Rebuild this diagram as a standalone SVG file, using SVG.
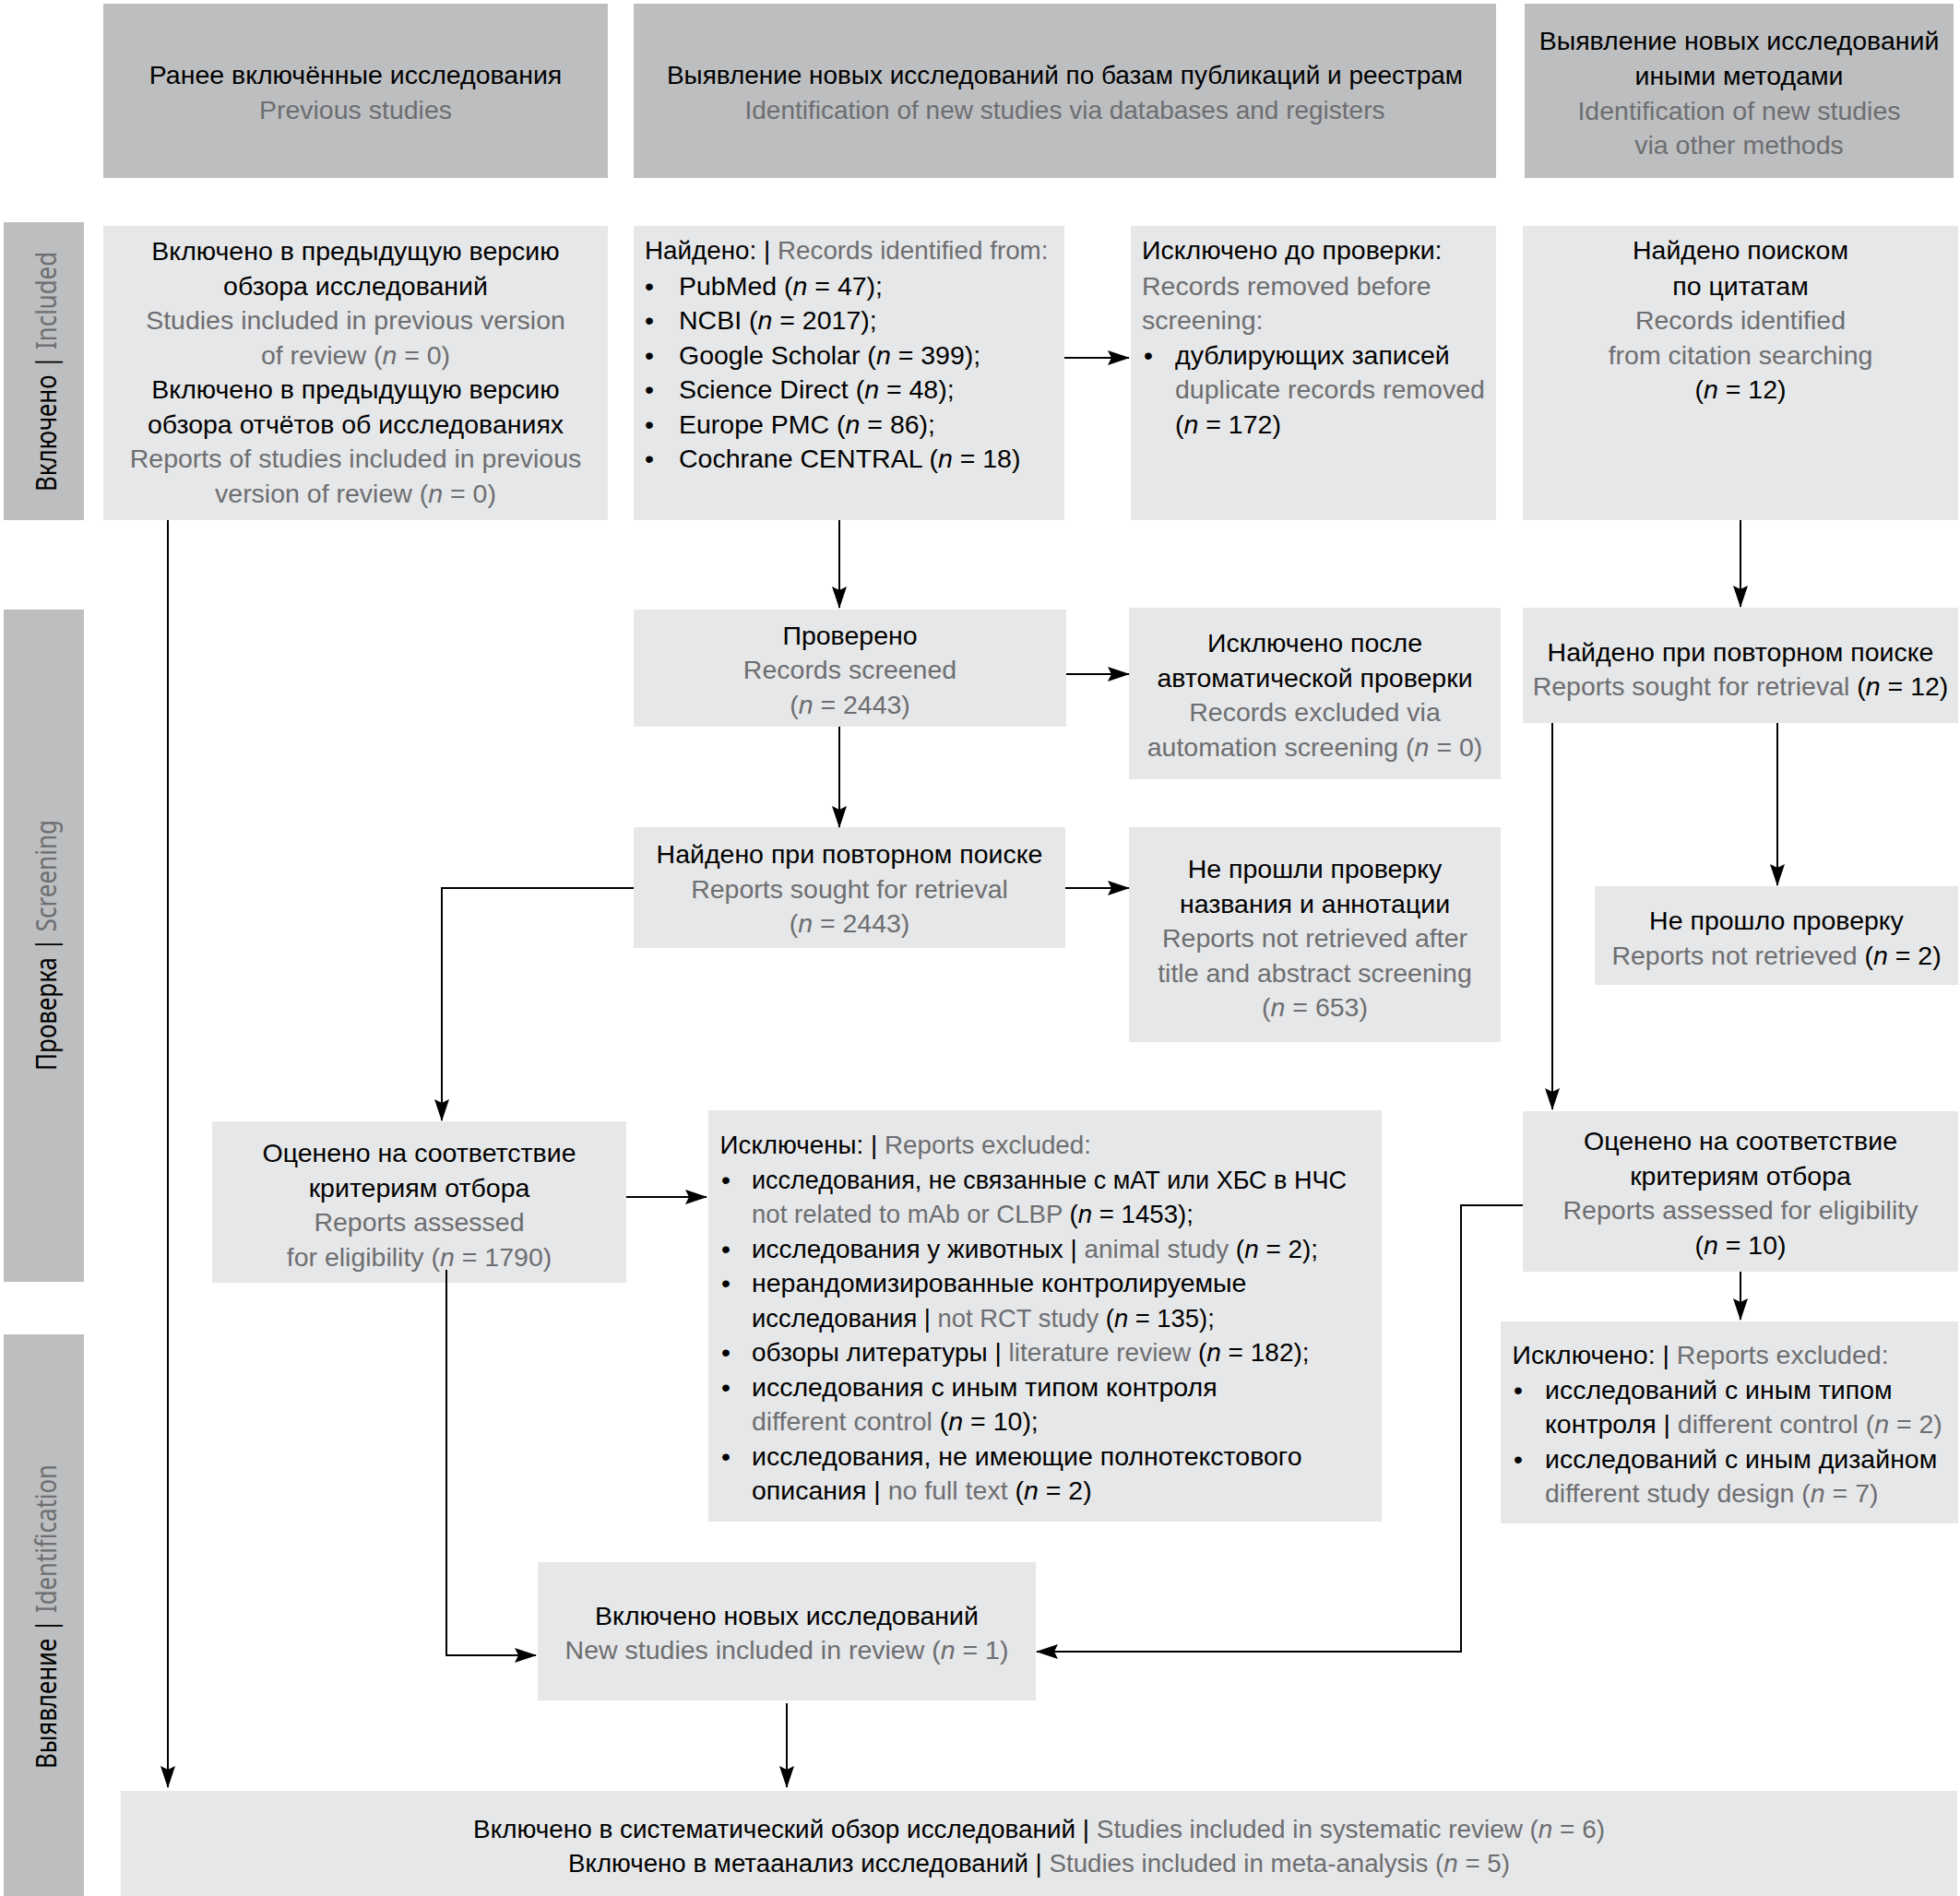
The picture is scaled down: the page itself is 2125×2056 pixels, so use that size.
<svg xmlns="http://www.w3.org/2000/svg" width="2125" height="2056" viewBox="0 0 2125 2056">
<style>
text{font-family:"Liberation Sans",Arial,sans-serif;font-size:28.5px;fill:#000}
.c{text-anchor:middle}
.g{fill:#6d6e71}
.i{font-style:italic}
.hd{fill:#bcbec0}
.bx{fill:#e6e7e8}
.band text{font-family:"Noto Sans","Open Sans",sans-serif;font-size:31px;text-anchor:middle}
.conn path{fill:none;stroke:#000;stroke-width:2;marker-end:url(#ah)}
</style>
<defs>
<marker id="ah" markerWidth="24" markerHeight="16" refX="23" refY="8" orient="auto" markerUnits="userSpaceOnUse"><path d="M0,0 L24,8 L0,16 L4,8 z" fill="#000"/></marker>
</defs>
<rect width="2125" height="2056" fill="#fff"/>

<g id="band-included" class="band">
<rect class="hd" x="4" y="241" width="87" height="323"/>
<text transform="translate(61,403) rotate(-90)" textLength="260" lengthAdjust="spacingAndGlyphs">Включено | <tspan class="g">Included</tspan></text>
</g>
<g id="band-screening" class="band">
<rect class="hd" x="4" y="661" width="87" height="729"/>
<text transform="translate(61,1025) rotate(-90)" textLength="272" lengthAdjust="spacingAndGlyphs">Проверка | <tspan class="g">Screening</tspan></text>
</g>
<g id="band-identification" class="band">
<rect class="hd" x="4" y="1447" width="87" height="609"/>
<text transform="translate(61,1753) rotate(-90)" textLength="330" lengthAdjust="spacingAndGlyphs">Выявление | <tspan class="g">Identification</tspan></text>
</g>

<g id="header-previous">
<rect class="hd" x="112" y="4" width="547" height="189"/>
<text class="c" x="385.5" y="91">Ранее включённые исследования</text>
<text class="c g" x="385.5" y="129">Previous studies</text>
</g>
<g id="header-databases">
<rect class="hd" x="687" y="4" width="935" height="189"/>
<text class="c" x="1154.5" y="91" textLength="863" lengthAdjust="spacingAndGlyphs">Выявление новых исследований по базам публикаций и реестрам</text>
<text class="c g" x="1154.5" y="129" textLength="694" lengthAdjust="spacingAndGlyphs">Identification of new studies via databases and registers</text>
</g>
<g id="header-other">
<rect class="hd" x="1653" y="4" width="465" height="189"/>
<text class="c" x="1885.5" y="54">Выявление новых исследований</text>
<text class="c" x="1885.5" y="92">иными методами</text>
<text class="c g" x="1885.5" y="130">Identification of new studies</text>
<text class="c g" x="1885.5" y="167">via other methods</text>
</g>

<g id="prev-included">
<rect class="bx" x="112" y="245" width="547" height="319"/>
<text class="c" x="385.5" y="282">Включено в предыдущую версию</text>
<text class="c" x="385.5" y="319.5">обзора исследований</text>
<text class="c g" x="385.5" y="357">Studies included in previous version</text>
<text class="c g" x="385.5" y="394.5">of review (<tspan class="i">n</tspan> = 0)</text>
<text class="c" x="385.5" y="432">Включено в предыдущую версию</text>
<text class="c" x="385.5" y="469.5">обзора отчётов об исследованиях</text>
<text class="c g" x="385.5" y="507">Reports of studies included in previous</text>
<text class="c g" x="385.5" y="544.5">version of review (<tspan class="i">n</tspan> = 0)</text>
</g>

<g id="records-identified">
<rect class="bx" x="687" y="245" width="467" height="319"/>
<text x="699" y="281" style="font-size:27.8px">Найдено: | <tspan class="g">Records identified from:</tspan></text>
<text x="699" y="319.5">•</text><text x="736" y="319.5">PubMed (<tspan class="i">n</tspan> = 47);</text>
<text x="699" y="357">•</text><text x="736" y="357">NCBI (<tspan class="i">n</tspan> = 2017);</text>
<text x="699" y="394.5">•</text><text x="736" y="394.5">Google Scholar (<tspan class="i">n</tspan> = 399);</text>
<text x="699" y="432">•</text><text x="736" y="432">Science Direct (<tspan class="i">n</tspan> = 48);</text>
<text x="699" y="469.5">•</text><text x="736" y="469.5">Europe PMC (<tspan class="i">n</tspan> = 86);</text>
<text x="699" y="507">•</text><text x="736" y="507">Cochrane CENTRAL (<tspan class="i">n</tspan> = 18)</text>
</g>

<g id="records-removed">
<rect class="bx" x="1226" y="245" width="396" height="319"/>
<text x="1238" y="281">Исключено до проверки:</text>
<text class="g" x="1238" y="319.5">Records removed before</text>
<text class="g" x="1238" y="357">screening:</text>
<text x="1240" y="394.5">•</text><text x="1274" y="394.5">дублирующих записей</text>
<text class="g" x="1274" y="432">duplicate records removed</text>
<text x="1274" y="469.5">(<tspan class="i">n</tspan> = 172)</text>
</g>

<g id="citation-search">
<rect class="bx" x="1651" y="245" width="472" height="319"/>
<text class="c" x="1887" y="281">Найдено поиском</text>
<text class="c" x="1887" y="319.5">по цитатам</text>
<text class="c g" x="1887" y="357">Records identified</text>
<text class="c g" x="1887" y="394.5">from citation searching</text>
<text class="c" x="1887" y="432">(<tspan class="i">n</tspan> = 12)</text>
</g>

<g id="records-screened">
<rect class="bx" x="687" y="661" width="469" height="127"/>
<text class="c" x="921.5" y="698.5">Проверено</text>
<text class="c g" x="921.5" y="736">Records screened</text>
<text class="c g" x="921.5" y="773.5">(<tspan class="i">n</tspan> = 2443)</text>
</g>

<g id="records-excluded-auto">
<rect class="bx" x="1224" y="659" width="403" height="186"/>
<text class="c" x="1425.5" y="707">Исключено после</text>
<text class="c" x="1425.5" y="744.5">автоматической проверки</text>
<text class="c g" x="1425.5" y="782">Records excluded via</text>
<text class="c g" x="1425.5" y="819.5">automation screening (<tspan class="i">n</tspan> = 0)</text>
</g>

<g id="reports-sought">
<rect class="bx" x="687" y="897" width="468" height="131"/>
<text class="c" x="921" y="936">Найдено при повторном поиске</text>
<text class="c g" x="921" y="973.5">Reports sought for retrieval</text>
<text class="c g" x="921" y="1011">(<tspan class="i">n</tspan> = 2443)</text>
</g>

<g id="reports-not-retrieved">
<rect class="bx" x="1224" y="897" width="403" height="233"/>
<text class="c" x="1425.5" y="952">Не прошли проверку</text>
<text class="c" x="1425.5" y="989.5">названия и аннотации</text>
<text class="c g" x="1425.5" y="1027">Reports not retrieved after</text>
<text class="c g" x="1425.5" y="1064.5">title and abstract screening</text>
<text class="c g" x="1425.5" y="1102">(<tspan class="i">n</tspan> = 653)</text>
</g>

<g id="other-sought">
<rect class="bx" x="1651" y="659" width="472" height="125"/>
<text class="c" x="1887" y="716.5">Найдено при повторном поиске</text>
<text class="c g" x="1887" y="754">Reports sought for retrieval <tspan fill="#000">(<tspan class="i">n</tspan> = 12)</tspan></text>
</g>

<g id="other-not-retrieved">
<rect class="bx" x="1729" y="961" width="394" height="107"/>
<text class="c" x="1926" y="1008">Не прошло проверку</text>
<text class="c g" x="1926" y="1045.5">Reports not retrieved <tspan fill="#000">(<tspan class="i">n</tspan> = 2)</tspan></text>
</g>

<g id="assessed">
<rect class="bx" x="230" y="1216" width="449" height="175"/>
<text class="c" x="454.5" y="1260">Оценено на соответствие</text>
<text class="c" x="454.5" y="1297.5">критериям отбора</text>
<text class="c g" x="454.5" y="1335">Reports assessed</text>
<text class="c g" x="454.5" y="1372.5">for eligibility (<tspan class="i">n</tspan> = 1790)</text>
</g>

<g id="reports-excluded">
<rect class="bx" x="768" y="1204" width="730" height="446"/>
<text x="780.5" y="1251" style="font-size:27.8px">Исключены: | <tspan class="g">Reports excluded:</tspan></text>
<text x="782" y="1288.5">•</text><text x="815" y="1288.5" textLength="645" lengthAdjust="spacingAndGlyphs">исследования, не связанные с мАТ или ХБС в НЧС</text>
<text x="815" y="1326" style="font-size:27.6px"><tspan class="g">not related to mAb or CLBP </tspan>(<tspan class="i">n</tspan> = 1453);</text>
<text x="782" y="1363.5">•</text><text x="815" y="1363.5" style="font-size:27.9px">исследования у животных | <tspan class="g">animal study </tspan>(<tspan class="i">n</tspan> = 2);</text>
<text x="782" y="1401">•</text><text x="815" y="1401">нерандомизированные контролируемые</text>
<text x="815" y="1438.5" style="font-size:27.4px">исследования | <tspan class="g">not RCT study </tspan>(<tspan class="i">n</tspan> = 135);</text>
<text x="782" y="1476">•</text><text x="815" y="1476" style="font-size:28px">обзоры литературы | <tspan class="g">literature review </tspan>(<tspan class="i">n</tspan> = 182);</text>
<text x="782" y="1513.5">•</text><text x="815" y="1513.5">исследования с иным типом контроля</text>
<text x="815" y="1551"><tspan class="g">different control </tspan>(<tspan class="i">n</tspan> = 10);</text>
<text x="782" y="1588.5">•</text><text x="815" y="1588.5">исследования, не имеющие полнотекстового</text>
<text x="815" y="1626">описания | <tspan class="g">no full text </tspan>(<tspan class="i">n</tspan> = 2)</text>
</g>

<g id="other-assessed">
<rect class="bx" x="1651" y="1205" width="472" height="174"/>
<text class="c" x="1887" y="1247">Оценено на соответствие</text>
<text class="c" x="1887" y="1284.5">критериям отбора</text>
<text class="c g" x="1887" y="1322">Reports assessed for eligibility</text>
<text class="c" x="1887" y="1359.5">(<tspan class="i">n</tspan> = 10)</text>
</g>

<g id="other-excluded">
<rect class="bx" x="1627" y="1433" width="496" height="219"/>
<text x="1639.5" y="1479">Исключено: | <tspan class="g">Reports excluded:</tspan></text>
<text x="1641" y="1516.5">•</text><text x="1675" y="1516.5">исследований с иным типом</text>
<text x="1675" y="1554">контроля | <tspan class="g">different control (<tspan class="i">n</tspan> = 2)</tspan></text>
<text x="1641" y="1591.5">•</text><text x="1675" y="1591.5">исследований с иным дизайном</text>
<text class="g" x="1675" y="1629">different study design (<tspan class="i">n</tspan> = 7)</text>
</g>

<g id="new-included">
<rect class="bx" x="583" y="1694" width="540" height="150"/>
<text class="c" x="853" y="1762">Включено новых исследований</text>
<text class="c g" x="853" y="1799">New studies included in review (<tspan class="i">n</tspan> = 1)</text>
</g>

<g id="total-included">
<rect class="bx" x="131" y="1942" width="1991" height="114"/>
<text class="c" x="1126.5" y="1993" style="font-size:27.9px">Включено в систематический обзор исследований | <tspan class="g">Studies included in systematic review (<tspan class="i">n</tspan> = 6)</tspan></text>
<text class="c" x="1126.5" y="2030" style="font-size:27.7px">Включено в метаанализ исследований | <tspan class="g">Studies included in meta-analysis (<tspan class="i">n</tspan> = 5)</tspan></text>
</g>

<g id="connectors" class="conn">
<path d="M182,564 V1938"/>
<path d="M910,564 V659"/>
<path d="M1154,388 H1224"/>
<path d="M1887,564 V658"/>
<path d="M1156,731 H1224"/>
<path d="M910,788 V897"/>
<path d="M1155,963 H1224"/>
<path d="M687,963 H479 V1215"/>
<path d="M1683,784 V1203"/>
<path d="M1927,784 V960"/>
<path d="M679,1298 H766"/>
<path d="M484,1377 V1795 H581"/>
<path d="M1887,1379 V1431"/>
<path d="M1651,1307 H1584 V1791 H1124"/>
<path d="M853,1847 V1938"/>
</g>
</svg>
